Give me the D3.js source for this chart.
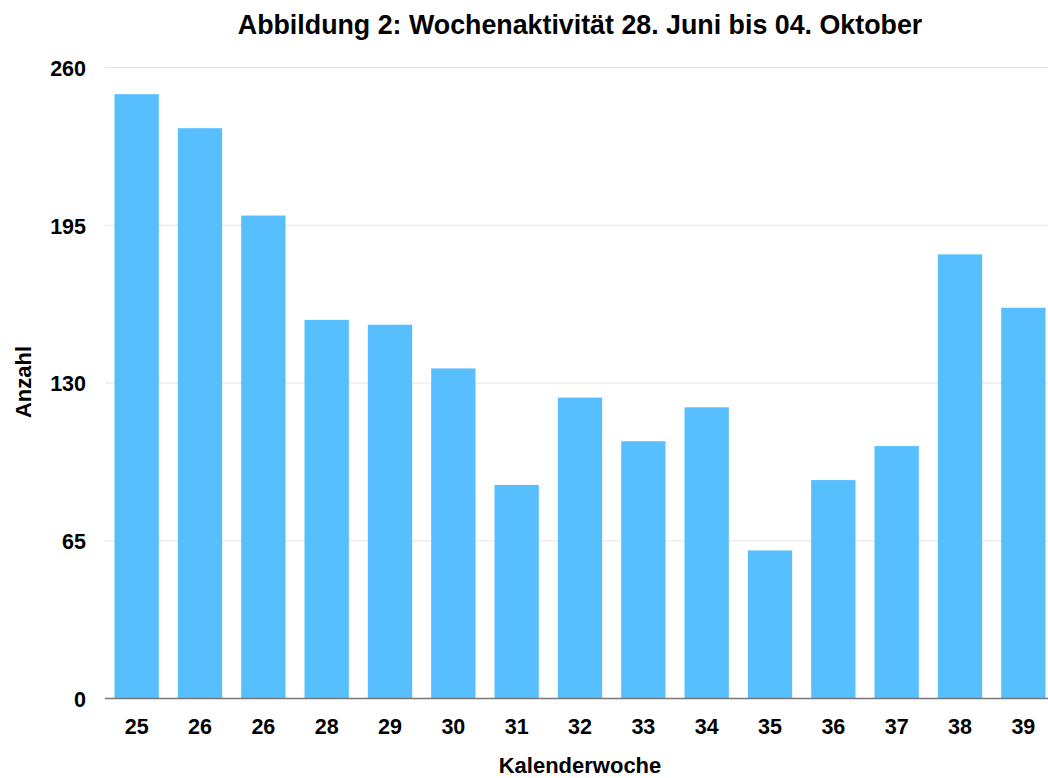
<!DOCTYPE html>
<html>
<head>
<meta charset="utf-8">
<script src="https://cdn.jsdelivr.net/npm/d3@7"></script>
<style>
  body { margin: 0; background: #fff; }
  text { font-family: "Liberation Sans", Arial, Helvetica, sans-serif; font-weight: bold; fill: #000; }
</style>
</head>
<body>
<div id="chart"></div>
<script>
// Kalenderwochen as printed on the axis (26 appears twice in the original)
var weeks = ["25", "26", "26", "28", "29", "30", "31", "32", "33", "34", "35", "36", "37", "38", "39"];
var counts = [249, 235, 199, 156, 154, 136, 88, 124, 106, 120, 61, 90, 104, 183, 161];
var yTicks = [0, 65, 130, 195, 260];

var width = 1048, height = 778;
var m = { top: 67.5, right: -7, bottom: 79.5, left: 105 };

var svg = d3.select("#chart").append("svg")
    .attr("width", width)
    .attr("height", height);

// index based band domain, because the week labels are not unique
var x = d3.scaleBand()
    .domain(d3.range(weeks.length))
    .range([m.left, width - m.right])
    .paddingInner(0.3)
    .paddingOuter(0.15);

var y = d3.scaleLinear()
    .domain([0, 260])
    .range([height - m.bottom, m.top]);

// gridlines
svg.append("g")
    .selectAll("line")
    .data(yTicks.filter(function(d) { return d > 0; }))
    .enter().append("line")
    .attr("x1", m.left)
    .attr("x2", width)
    .attr("y1", function(d) { return y(d); })
    .attr("y2", function(d) { return y(d); })
    .attr("stroke", "#e4e4e4")
    .attr("stroke-width", 1);

// bars
svg.append("g")
    .selectAll("rect")
    .data(counts)
    .enter().append("rect")
    .attr("x", function(d, i) { return x(i); })
    .attr("width", x.bandwidth())
    .attr("y", function(d) { return y(d); })
    .attr("height", function(d) { return y(0) - y(d); })
    .attr("fill", "#58bffe");

// baseline
svg.append("line")
    .attr("x1", m.left)
    .attr("x2", width)
    .attr("y1", y(0))
    .attr("y2", y(0))
    .attr("stroke", "#777")
    .attr("stroke-width", 1.5);

// y axis labels
var yAxis = svg.append("g")
    .attr("transform", "translate(" + 86 + ",0)")
    .call(d3.axisLeft(y).tickValues(yTicks).tickSize(0).tickPadding(0));
yAxis.select(".domain").remove();
yAxis.selectAll("text")
    .style("font-size", "21.5px")
    .attr("dy", "0.36em");

// x axis labels
var xAxis = svg.append("g")
    .attr("transform", "translate(0," + y(0) + ")")
    .call(d3.axisBottom(x).tickFormat(function(i) { return weeks[i]; }).tickSize(0).tickPadding(0));
xAxis.select(".domain").remove();
xAxis.selectAll("text")
    .style("font-size", "21.5px")
    .attr("y", 35)
    .attr("dy", 0);

// title
svg.append("text")
    .attr("x", 580)
    .attr("y", 34)
    .attr("text-anchor", "middle")
    .style("font-size", "26.8px")
    .text("Abbildung 2: Wochenaktivität 28. Juni bis 04. Oktober");

// axis titles
svg.append("text")
    .attr("x", 580)
    .attr("y", 773)
    .attr("text-anchor", "middle")
    .style("font-size", "22px")
    .text("Kalenderwoche");

svg.append("text")
    .attr("transform", "translate(31,382) rotate(-90)")
    .attr("text-anchor", "middle")
    .style("font-size", "22px")
    .text("Anzahl");
</script>
</body>
</html>
